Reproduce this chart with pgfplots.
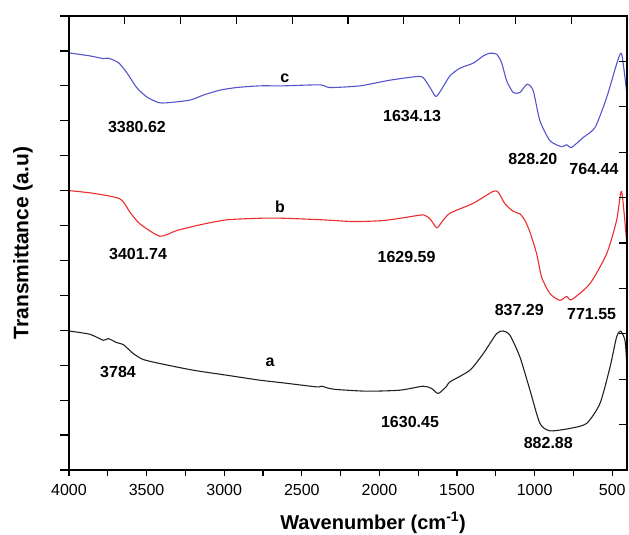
\documentclass[border=0pt]{standalone}
\usepackage{fontspec}
\setmainfont{Liberation Sans}
\usepackage{pgfplots}
\pgfplotsset{compat=1.18}
\definecolor{cblue}{RGB}{85,85,205}
\definecolor{cred}{RGB}{235,45,45}
\definecolor{cblack}{RGB}{35,35,35}
\begin{document}
\begin{tikzpicture}
\useasboundingbox (-69pt,-65pt) rectangle (560pt,470pt);
\begin{axis}[
  scale only axis, width=558pt, height=454pt,
  at={(0pt,0pt)}, anchor=south west,
  x dir=reverse, xmin=405, xmax=4000, ymin=0, ymax=455,
  axis line style={line width=1.6pt},
  xtick={500,1000,...,4000},
  minor xtick={750,1250,...,3750},
  ytick=\empty,
  xtick pos=left, tick align=outside,
  major tick length=6pt, minor tick length=6pt,
  every tick/.style={line width=1.3pt, black},
  /pgf/number format/assume math mode=true,
  /pgf/number format/1000 sep={},
  xticklabel style={font=\fontsize{16}{16}\selectfont, yshift=-5pt},
  xlabel={\textbf{Wavenumber (cm\textsuperscript{-1})}},
  ylabel={\textbf{Transmittance (a.u)}},
  every axis x label/.style={at={(axis description cs:0.545,0)}, anchor=center, yshift=-53pt, font=\fontsize{20}{20}\selectfont},
  every axis y label/.style={at={(axis description cs:-0.0824,0.5)}, anchor=center, rotate=90, font=\fontsize{21}{21}\selectfont},
  clip=true,
]
\addplot[cblue, line width=1.1pt, line join=round, smooth, tension=0.4] coordinates {
(4000,418) (3865,415) (3779,412.3) (3747,412.7) (3682,408.3) (3628,398.3) (3564,383.3)
(3500,374) (3425,368.3) (3371,368) (3221,370.7) (3135,375.7) (3027,380.7) (2920,383.3)
(2770,385) (2619,385) (2383,386) (2319,383.3) (2125,385) (1932,390.7) (1760,394.3)
(1718,393.3) (1674,383.3) (1636,374.3) (1599,381.7) (1546,395) (1481,402.7) (1396,407.7)
(1331,415) (1288,417.7) (1245,416.7) (1213,408.3) (1180,390) (1138,378.3) (1095,378.3)
(1048,386.7) (1009,380) (966,350) (901,330) (826,324) (794,326) (762,323.3) (687,333.3)
(611,343.3) (536,373.3) (472,406.7) (440,417.3) (408,380)
};
\addplot[cred, line width=1.1pt, line join=round, smooth, tension=0.4] coordinates {
(4000,280) (3843,277.3) (3671,271.7) (3607,258.3) (3543,246.7) (3414,234.3) (3306,240)
(3156,245.7) (2984,250.7) (2770,252.3) (2619,252.3) (2362,250.7) (2168,249) (1975,250)
(1824,253.3) (1718,255.7) (1674,251.7) (1631,242.7) (1599,248.3) (1546,257.3) (1396,267.3)
(1267,279.3) (1234,278.3) (1191,266.7) (1138,259.3) (1095,256.7) (1062,250) (1030,238.3)
(987,216.7) (955,193.3) (901,176.7) (837,170) (794,174) (762,170.7) (644,186.7) (536,216.7)
(472,250) (440,279.3) (408,230)
};
\addplot[cblack, line width=1.1pt, line join=round, smooth, tension=0.4] coordinates {
(4000,139.3) (3865,136) (3779,130) (3747,131.7) (3693,127.7) (3650,125.7) (3586,116.7)
(3521,110.7) (3414,106.7) (3199,100) (2984,95) (2770,90) (2619,87.3) (2404,83.3) (2372,84)
(2297,81) (2082,79) (1868,80) (1718,84) (1664,81.7) (1621,76.7) (1567,84) (1546,88.3)
(1417,100) (1331,116.7) (1245,136.7) (1202,139.3) (1159,135) (1095,113.3) (1030,80)
(966,46.7) (901,39.3) (772,41.7) (665,46.7) (579,66.7) (514,103.3) (472,133.3) (446,139.3)
(418,130) (408,110)
};
\begin{scope}[every node/.style={font=\bfseries\fontsize{16}{16}\selectfont}]
\node at (axis cs:2609,393) {c};
\node at (axis cs:3562,344) {3380.62};
\node at (axis cs:1790,355) {1634.13};
\node at (axis cs:1011,312) {828.20};
\node at (axis cs:618,302) {764.44};
\node at (axis cs:2641,264) {b};
\node at (axis cs:3555,216) {3401.74};
\node at (axis cs:1825,213) {1629.59};
\node at (axis cs:1099,160) {837.29};
\node at (axis cs:633,156) {771.55};
\node at (axis cs:2705,108) {a};
\node at (axis cs:3684,98) {3784};
\node at (axis cs:1803,48) {1630.45};
\node at (axis cs:912,27) {882.88};
\end{scope}
\end{axis}
\begin{axis}[
  scale only axis, width=558pt, height=454pt,
  at={(0pt,0pt)}, anchor=south west,
  xmin=0, xmax=13, ymin=0, ymax=13,
  axis line style={line width=1.6pt},
  xtick=\empty, ytick={0,...,13}, yticklabels={},
  ytick pos=left, tick align=outside,
  major tick length=9pt,
  every tick/.style={line width=1.3pt, black},
]
\end{axis}
\begin{axis}[
  scale only axis, width=558pt, height=454pt,
  at={(0pt,0pt)}, anchor=south west,
  xmin=0, xmax=10, ymin=0, ymax=10,
  axis line style={line width=1.6pt},
  xtick={1,...,9}, ytick={1,...,9},
  xticklabels={}, yticklabels={},
  xtick pos=right, ytick pos=right, tick align=inside,
  major tick length=8pt,
  every tick/.style={line width=1.3pt, black},
]
\end{axis}
\end{tikzpicture}
\end{document}
